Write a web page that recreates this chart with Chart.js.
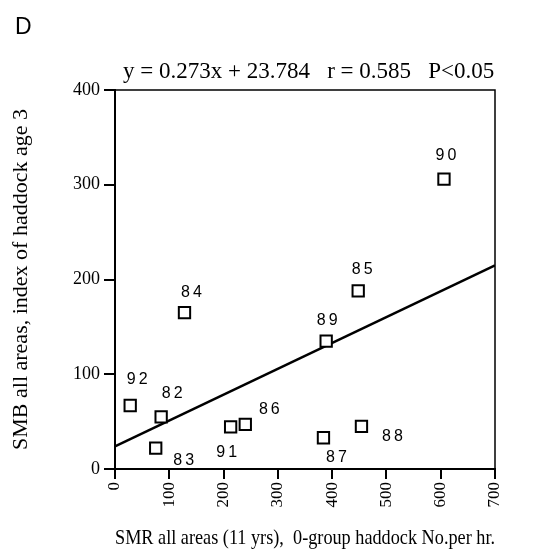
<!DOCTYPE html>
<html>
<head>
<meta charset="utf-8">
<script src="https://cdn.jsdelivr.net/npm/chart.js@4"></script>
<style>
  html, body { margin: 0; padding: 0; background: #fff; }
  #wrap { width: 560px; height: 560px; }
</style>
</head>
<body>
<div id="wrap"><canvas id="myChart" width="560" height="560"></canvas></div>
<script>
'use strict';

// year labels for each point
let years = ['82', '83', '84', '85', '86', '87', '88', '89', '90', '91', '92'];
// SMR 0-group haddock No. per hr (x)
let smrValues = [85, 75, 128, 448, 240, 384, 454, 389, 606, 213, 28];
// SMB index of haddock age 3 (y)
let smbValues = [55, 22, 165, 188, 47, 33, 45, 135, 306, 44.5, 67];
// regression line ends
let fitX = [0, 700];
let fitY = [23.8, 214.9];
// tick labels
let xTicks = [0, 100, 200, 300, 400, 500, 600, 700];
let yTicks = [0, 100, 200, 300, 400];

// where the year text sits relative to its square (pixels)
let labelOffsets = {
  '82': [11, -23], '83': [28, 12], '84': [7, -20], '85': [4, -21],
  '86': [24, -15], '87': [13, 20], '88': [31, 10], '89': [1, -20],
  '90': [2, -23], '91': [-4, 26], '92': [7, -26]
};

let points = [];
for (let i = 0; i < years.length; i++) {
  points.push({ x: smrValues[i], y: smbValues[i] });
}
let fitLine = [];
for (let i = 0; i < fitX.length; i++) {
  fitLine.push({ x: fitX[i], y: fitY[i] });
}

const serif = '"Liberation Serif", "DejaVu Serif", serif';
const sans = '"Liberation Sans", Arial, sans-serif';

// draws the frame, the year labels, the equation and the panel letter
const extras = {
  id: 'extras',
  afterDatasetsDraw(chart) {
    const ctx = chart.ctx;
    const area = chart.chartArea;
    ctx.save();
    // top and right edges of the box
    ctx.strokeStyle = '#000';
    ctx.lineWidth = 1.5;
    ctx.beginPath();
    ctx.moveTo(area.left, area.top);
    ctx.lineTo(area.right, area.top);
    ctx.lineTo(area.right, area.bottom);
    ctx.stroke();

    // year labels
    ctx.fillStyle = '#000';
    ctx.font = '16px ' + sans;
    ctx.textAlign = 'center';
    ctx.textBaseline = 'middle';
    if ('letterSpacing' in ctx) ctx.letterSpacing = '3px';
    const meta = chart.getDatasetMeta(0);
    meta.data.forEach(function (pt, i) {
      const off = labelOffsets[years[i]];
      ctx.fillText(years[i], pt.x + off[0] + 1.5, pt.y + off[1]);
    });
    if ('letterSpacing' in ctx) ctx.letterSpacing = '0px';

    // equation above the box
    ctx.font = '23px ' + serif;
    ctx.textAlign = 'left';
    ctx.textBaseline = 'alphabetic';
    ctx.fillText('y = 0.273x + 23.784   r = 0.585   P<0.05', 123, 78);

    // panel letter
    ctx.font = '23px ' + sans;
    ctx.fillText('D', 15, 34);
    ctx.restore();
  }
};

const ctx = document.getElementById('myChart').getContext('2d');
const myChart = new Chart(ctx, {
  type: 'scatter',
  data: {
    datasets: [
      {
        label: 'years',
        data: points,
        pointStyle: 'rect',
        pointRadius: 8,
        pointBorderWidth: 2,
        pointBorderColor: '#000',
        pointBackgroundColor: '#fff',
        order: 0
      },
      {
        type: 'line',
        label: 'fit',
        data: fitLine,
        borderColor: '#000',
        borderWidth: 2.5,
        pointRadius: 0,
        fill: false,
        order: 1
      }
    ]
  },
  options: {
    responsive: false,
    animation: false,
    layout: { padding: { top: 90, right: 65, left: 0, bottom: 0 } },
    plugins: {
      legend: { display: false },
      tooltip: { enabled: false }
    },
    scales: {
      x: {
        type: 'linear',
        min: 0,
        max: 700,
        afterBuildTicks(scale) {
          scale.ticks = xTicks.map(function (v) { return { value: v }; });
        },
        afterFit(scale) { scale.height = 91; },
        grid: { drawOnChartArea: false, drawTicks: true, tickLength: 10, color: '#000', lineWidth: 2 },
        border: { display: true, color: '#000', width: 2 },
        ticks: {
          color: '#000',
          font: { family: serif, size: 17 },
          minRotation: 90,
          maxRotation: 90,
          padding: 3
        },
        title: {
          display: true,
          text: 'SMR all areas (11 yrs),  0-group haddock No.per hr.',
          color: '#000',
          font: { family: serif, size: 21 },
          padding: { top: 0, bottom: 9 }
        }
      },
      y: {
        type: 'linear',
        min: 0,
        max: 400,
        afterBuildTicks(scale) {
          scale.ticks = yTicks.map(function (v) { return { value: v }; });
        },
        afterFit(scale) { scale.width = 115; },
        grid: { drawOnChartArea: false, drawTicks: true, tickLength: 11, color: '#000', lineWidth: 2 },
        border: { display: true, color: '#000', width: 2 },
        ticks: {
          color: '#000',
          font: { family: serif, size: 18 },
          padding: 4
        },
        title: {
          display: true,
          text: 'SMB all areas, index of haddock age 3',
          color: '#000',
          font: { family: serif, size: 22 },
          padding: { top: 8, bottom: 0 }
        }
      }
    }
  },
  plugins: [extras]
});
</script>
</body>
</html>
